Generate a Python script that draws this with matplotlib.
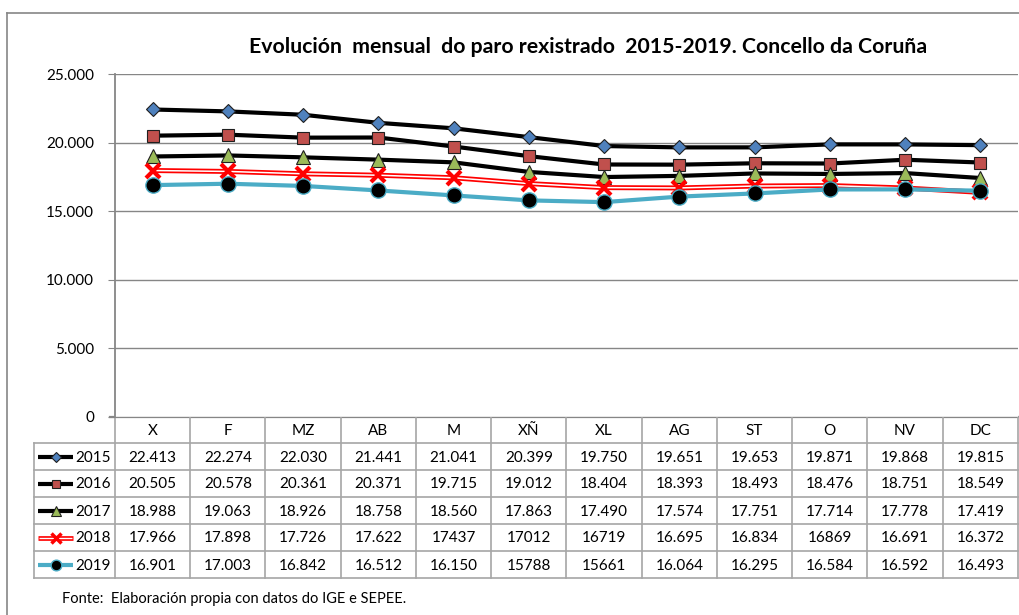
import matplotlib
matplotlib.use("Agg")
import matplotlib.pyplot as plt

plt.rcParams['font.family'] = ['Lato', 'DejaVu Sans']

meses = ["X", "F", "MZ", "AB", "M", "XÑ", "XL", "AG", "ST", "O", "NV", "DC"]
anos = ["2015", "2016", "2017", "2018", "2019"]

v2015 = [22413, 22274, 22030, 21441, 21041, 20399, 19750, 19651, 19653, 19871, 19868, 19815]
v2016 = [20505, 20578, 20361, 20371, 19715, 19012, 18404, 18393, 18493, 18476, 18751, 18549]
v2017 = [18988, 19063, 18926, 18758, 18560, 17863, 17490, 17574, 17751, 17714, 17778, 17419]
v2018 = [17966, 17898, 17726, 17622, 17437, 17012, 16719, 16695, 16834, 16869, 16691, 16372]
v2019 = [16901, 17003, 16842, 16512, 16150, 15788, 15661, 16064, 16295, 16584, 16592, 16493]
series = [v2015, v2016, v2017, v2018, v2019]

# cells that the source table shows without thousands separator
sin_punto = [(3, 4), (3, 5), (3, 6), (3, 9), (4, 5), (4, 6)]

yticks = [0, 5000, 10000, 15000, 20000, 25000]


def fmt(v, plain=False):
    if plain:
        return str(v)
    return f"{v:,}".replace(",", ".")


estilos = [
    dict(color='black', lw=3, marker='D', ms=7.5, mfc='#4F81BD', mec='#1F1F1F', mew=0.8),
    dict(color='black', lw=3, marker='s', ms=9, mfc='#C0504D', mec='#1F1F1F', mew=0.8),
    dict(color='black', lw=3, marker='^', ms=10, mfc='#9BBB59', mec='#1F1F1F', mew=0.8),
    None,
    dict(color='#4BACC6', lw=3, marker='o', ms=11, mfc='black', mec='#4BACC6', mew=1),
]

W, H = 1020, 615
fig = plt.figure(figsize=(W / 100, H / 100), dpi=100)

L, R, T, B = 115, 1018, 74, 417
ax = fig.add_axes([L / W, 1 - B / H, (R - L) / W, (B - T) / H])
ax.set_zorder(2)
x = list(range(len(meses)))

for i, vals in enumerate(series):
    if i == 3:
        ax.plot(x, vals, color='red', lw=3.6, solid_capstyle='butt', zorder=3)
        ax.plot(x, vals, color='white', lw=1.1, solid_capstyle='butt', zorder=3)
        ax.plot(x, vals, ls='none', marker='x', ms=10, mew=3, color='red', zorder=3)
    else:
        ax.plot(x, vals, zorder=3, **estilos[i])

ax.set_xlim(-0.5, len(meses) - 0.5)
ax.set_ylim(0, 25000)
ax.set_yticks(yticks)
ax.set_yticklabels([fmt(v) for v in yticks], fontsize=11)
ax.set_xticks([])
ax.grid(axis='y', color='#868686', lw=1)
ax.set_axisbelow(True)
for s in ['top', 'right', 'bottom']:
    ax.spines[s].set_visible(False)
ax.spines['left'].set_color('#868686')
ax.spines['left'].set_linewidth(1.3)
ax.tick_params(axis='y', length=5, color='#868686', pad=10)

# overlay in pixel coordinates for frame, table and captions
ov = fig.add_axes([0, 0, 1, 1])
ov.set_zorder(1)
ov.set_xlim(0, W)
ov.set_ylim(H, 0)
ov.axis('off')

ov.plot([7, W], [13, 13], color='#868686', lw=1.2)
ov.plot([7, 7], [13, H], color='#868686', lw=1.2)

ov.text(588, 47, "Evolución  mensual  do paro rexistrado  2015-2019. Concello da Coruña",
        ha='center', va='center', fontsize=15.3, fontweight='bold')

colw = (R - L) / len(meses)
hdr_top, row0, rowh = 417, 443, 27
bottom = row0 + rowh * len(anos)
grid_c = '#A6A6A6'

ov.plot([L - 5, R], [hdr_top, hdr_top], color='#868686', lw=1.6)
for k in range(len(meses) + 1):
    xx = L + k * colw
    ov.plot([xx, xx], [hdr_top, bottom], color=grid_c, lw=1.2)
ov.plot([34, 34], [row0, bottom], color=grid_c, lw=1.2)
for r in range(len(anos) + 1):
    yy = row0 + r * rowh
    ov.plot([34, R], [yy, yy], color=grid_c, lw=1.2)

for j, m in enumerate(meses):
    ov.text(L + (j + 0.5) * colw, (hdr_top + row0) / 2 + 1, m, ha='center', va='center', fontsize=11)

for i, vals in enumerate(series):
    yc = row0 + (i + 0.5) * rowh + 1
    for j, v in enumerate(vals):
        ov.text(L + (j + 0.5) * colw, yc, fmt(v, (i, j) in sin_punto),
                ha='center', va='center', fontsize=11)
    ov.text(75, yc, anos[i], ha='left', va='center', fontsize=11)
    # legend key
    if i == 3:
        ov.plot([38, 73], [yc - 1, yc - 1], color='red', lw=3.4, solid_capstyle='butt')
        ov.plot([39, 72], [yc - 1, yc - 1], color='white', lw=1.0, solid_capstyle='butt')
        ov.plot([56], [yc - 1], ls='none', marker='x', ms=7, mew=2.5, color='red')
    else:
        st = estilos[i]
        ov.plot([38, 73], [yc - 1, yc - 1], color=st['color'], lw=st['lw'], solid_capstyle='butt')
        ov.plot([56], [yc - 1], ls='none', marker=st['marker'], ms=st['ms'] * 0.7,
                mfc=st['mfc'], mec=st['mec'], mew=st['mew'])

ov.text(62, 599, "Fonte:  Elaboración propia con datos do IGE e SEPEE.", ha='left', va='center', fontsize=10.5)

fig.savefig("out.png", dpi=100)
